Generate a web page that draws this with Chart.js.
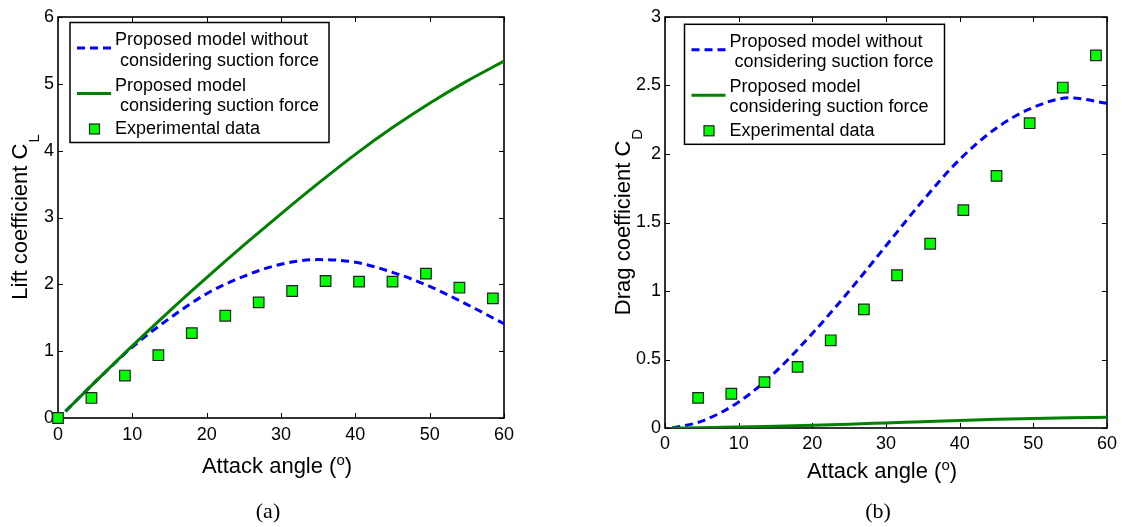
<!DOCTYPE html>
<html><head><meta charset="utf-8">
<script src="https://cdn.jsdelivr.net/npm/chart.js@4/dist/chart.umd.min.js"></script>
<style>
html,body{margin:0;padding:0;background:#fff;}
#wrap{position:relative;width:1122px;height:527px;overflow:hidden;background:#fff;}
canvas{position:absolute;top:0;}
#cA{left:0;width:561px;height:527px;}
#cB{left:561px;width:561px;height:527px;}
</style></head><body>
<div id="wrap"><canvas id="cA" width="561" height="527"></canvas><canvas id="cB" width="561" height="527"></canvas></div>
<script>
// ---------- data ----------
const modelAngles = [1, 5, 10, 15, 20, 25, 30, 35, 40, 45, 50, 55, 60];
const liftNoSuction = [0.10, 0.54, 1.06, 1.49, 1.86, 2.12, 2.30, 2.37, 2.33, 2.18, 1.97, 1.70, 1.41];
const liftSuction   = [0.10, 0.54, 1.08, 1.60, 2.10, 2.585, 3.055, 3.51, 3.945, 4.345, 4.71, 5.04, 5.34];
const dragNoSuction = [0.00, 0.05, 0.19, 0.41, 0.69, 1.00, 1.33, 1.66, 1.96, 2.19, 2.34, 2.41, 2.37];
const dragSuction   = [0.000, 0.002, 0.007, 0.013, 0.020, 0.028, 0.037, 0.046, 0.055, 0.063, 0.070, 0.075, 0.078];

const liftExpAngles = [0, 4.5, 9, 13.5, 18, 22.5, 27, 31.5, 36, 40.5, 45, 49.5, 54, 58.5];
const liftExp       = [0, 0.30, 0.635, 0.94, 1.27, 1.53, 1.73, 1.90, 2.05, 2.04, 2.04, 2.16, 1.95, 1.79];
const dragExpAngles = [4.5, 9, 13.5, 18, 22.5, 27, 31.5, 36, 40.5, 45, 49.5, 54, 58.5];
const dragExp       = [0.22, 0.25, 0.335, 0.446, 0.64, 0.866, 1.115, 1.345, 1.59, 1.84, 2.225, 2.485, 2.72];

const xTickValues = [0, 10, 20, 30, 40, 50, 60];
const xTickLabels = ['0', '10', '20', '30', '40', '50', '60'];
const liftTickValues = [0, 1, 2, 3, 4, 5, 6];
const liftTickLabels = ['0', '1', '2', '3', '4', '5', '6'];
const dragTickValues = [0, 0.5, 1, 1.5, 2, 2.5, 3];
const dragTickLabels = ['0', '0.5', '1', '1.5', '2', '2.5', '3'];

const seriesNames = ['Proposed model without considering suction force', 'Proposed model considering suction force', 'Experimental data'];
const legendLinesA = [['Proposed model without', ' considering suction force'], ['Proposed model', ' considering suction force'], ['Experimental data']];
const legendLinesB = [['Proposed model without', ' considering suction force'], ['Proposed model', 'considering suction force'], ['Experimental data']];
const xTitleMain = 'Attack angle (';
const xTitleSup = 'o';
const xTitleEnd = ')';
const liftTitle = ['Lift coefficient C', 'L'];
const dragTitle = ['Drag coefficient C', 'D'];
const captions = ['(a)', '(b)'];

// ---------- styling ----------
const FONT = "'Liberation Sans', Arial, Helvetica, sans-serif";
const BLUE = '#0000ff';
const GREEN = '#008000';
const MARK = '#00ff00';
const DASH = [8, 5];

function pts(xs, ys) { return xs.map((x, i) => ({ x: x, y: ys[i] })); }

function makePlugin(cfg) {
  return {
    id: 'deco' + cfg.key,
    beforeDatasetsDraw(chart) {
      const ctx = chart.ctx, a = chart.chartArea, x = chart.scales.x, y = chart.scales.y;
      ctx.save();
      ctx.strokeStyle = '#000';
      ctx.lineWidth = 1;
      ctx.beginPath();
      cfg.xTicks.forEach(v => {
        const p = Math.round(x.getPixelForValue(v)) + 0.5;
        ctx.moveTo(p, a.bottom); ctx.lineTo(p, a.bottom - 5);
        ctx.moveTo(p, a.top); ctx.lineTo(p, a.top + 5);
      });
      cfg.yTicks.forEach(v => {
        const p = Math.round(y.getPixelForValue(v)) + 0.5;
        ctx.moveTo(a.left, p); ctx.lineTo(a.left + 5, p);
        ctx.moveTo(a.right, p); ctx.lineTo(a.right - 5, p);
      });
      ctx.stroke();
      ctx.lineWidth = 1.6;
      ctx.strokeRect(a.left, a.top, a.right - a.left, a.bottom - a.top);
      ctx.restore();
    },
    afterDraw(chart) {
      const ctx = chart.ctx, a = chart.chartArea;
      ctx.save();
      ctx.fillStyle = '#000';
      ctx.textBaseline = 'alphabetic';
      // y title with subscript
      ctx.save();
      ctx.translate(cfg.yTitleBase, (a.top + a.bottom) / 2);
      ctx.rotate(-Math.PI / 2);
      ctx.font = '22px ' + FONT;
      const w1 = ctx.measureText(cfg.yTitle[0]).width;
      ctx.font = '15px ' + FONT;
      const w2 = ctx.measureText(cfg.yTitle[1]).width;
      const st = -(w1 + w2) / 2;
      ctx.font = '22px ' + FONT;
      ctx.textAlign = 'left';
      ctx.fillText(cfg.yTitle[0], st, 0);
      ctx.font = '15px ' + FONT;
      ctx.fillText(cfg.yTitle[1], st + w1 + 1, 12);
      ctx.restore();
      // x title with superscript
      ctx.textAlign = 'left';
      ctx.font = '22px ' + FONT;
      const m1 = ctx.measureText(xTitleMain).width;
      const m3 = ctx.measureText(xTitleEnd).width;
      ctx.font = '15px ' + FONT;
      const m2 = ctx.measureText(xTitleSup).width;
      let sx = cfg.xTitleCenter - (m1 + m2 + m3) / 2;
      ctx.font = '22px ' + FONT;
      ctx.fillText(xTitleMain, sx, cfg.xTitleBase);
      ctx.font = '15px ' + FONT;
      ctx.fillText(xTitleSup, sx + m1, cfg.xTitleBase - 8);
      ctx.font = '22px ' + FONT;
      ctx.fillText(xTitleEnd, sx + m1 + m2, cfg.xTitleBase);
      // caption
      ctx.font = "22px 'Liberation Serif', 'DejaVu Serif', serif";
      ctx.textAlign = 'center';
      ctx.fillText(cfg.caption, cfg.captionX, 518);
      // legend
      const lx = a.left + cfg.legOff[0], ly = a.top + cfg.legOff[1];
      const lw = cfg.legSize[0], lh = cfg.legSize[1];
      ctx.fillStyle = '#fff';
      ctx.fillRect(lx, ly, lw, lh);
      ctx.strokeStyle = '#000';
      ctx.lineWidth = 1.5;
      ctx.strokeRect(lx, ly, lw, lh);
      ctx.lineWidth = 3;
      ctx.strokeStyle = BLUE;
      ctx.setLineDash(DASH);
      ctx.beginPath(); ctx.moveTo(lx + 7, ly + 25.5); ctx.lineTo(lx + 41, ly + 25.5); ctx.stroke();
      ctx.setLineDash([]);
      ctx.strokeStyle = GREEN;
      ctx.beginPath(); ctx.moveTo(lx + 7, ly + 71); ctx.lineTo(lx + 41, ly + 71); ctx.stroke();
      ctx.fillStyle = MARK;
      ctx.fillRect(lx + 19.5, ly + 101.5, 10, 10);
      ctx.strokeStyle = '#222';
      ctx.lineWidth = 1.2;
      ctx.strokeRect(lx + 19.5, ly + 101.5, 10, 10);
      ctx.fillStyle = '#000';
      ctx.font = '18px ' + FONT;
      ctx.textAlign = 'left';
      const L = cfg.legend;
      ctx.fillText(L[0][0], lx + 45, ly + 22.5);
      ctx.fillText(L[0][1], lx + 45, ly + 43);
      ctx.fillText(L[1][0], lx + 45, ly + 68);
      ctx.fillText(L[1][1], lx + 45, ly + 88);
      ctx.fillText(L[2][0], lx + 45, ly + 111.5);
      ctx.restore();
    }
  };
}

function makeChart(id, cfg) {
  return new Chart(document.getElementById(id), {
    type: 'scatter',
    data: {
      datasets: [
        { label: seriesNames[0], data: pts(modelAngles, cfg.noSuction), showLine: true,
          borderColor: BLUE, backgroundColor: BLUE, borderWidth: 3, borderDash: DASH,
          pointRadius: 0, cubicInterpolationMode: 'monotone', fill: false, order: 3 },
        { label: seriesNames[1], data: pts(modelAngles, cfg.suction), showLine: true,
          borderColor: GREEN, backgroundColor: GREEN, borderWidth: 3,
          pointRadius: 0, cubicInterpolationMode: 'monotone', fill: false, order: 2 },
        { label: seriesNames[2], data: pts(cfg.expX, cfg.expY), showLine: false,
          pointStyle: 'rect', pointRadius: 7.5, pointBackgroundColor: MARK,
          pointBorderColor: '#222', pointBorderWidth: 1.2, clip: false, order: 1 }
      ]
    },
    options: {
      responsive: false, animation: false, devicePixelRatio: 1,
      layout: { padding: { left: 0, top: 17, right: cfg.padRight, bottom: 0 } },
      plugins: { legend: { display: false }, tooltip: { enabled: false } },
      scales: {
        x: {
          type: 'linear', min: 0, max: 60,
          afterBuildTicks: s => { s.ticks = xTickValues.map(v => ({ value: v })); },
          afterFit: s => { s.height = cfg.xHeight; },
          grid: { display: false, drawTicks: false }, border: { display: false },
          ticks: { color: '#000', font: { family: FONT, size: 18 }, padding: cfg.xPad, maxRotation: 0, autoSkip: false,
                   callback: (v, i) => xTickLabels[i] }
        },
        y: {
          type: 'linear', min: cfg.yTicks[0], max: cfg.yTicks[cfg.yTicks.length - 1],
          afterBuildTicks: s => { s.ticks = cfg.yTicks.map(v => ({ value: v })); },
          afterFit: s => { s.width = cfg.yWidth; },
          grid: { display: false, drawTicks: false }, border: { display: false },
          ticks: { color: '#000', font: { family: FONT, size: 18 }, padding: 4, autoSkip: false,
                   callback: (v, i) => cfg.yLabels[i] }
        }
      }
    },
    plugins: [makePlugin(cfg)]
  });
}

makeChart('cA', {
  key: 'A', noSuction: liftNoSuction, suction: liftSuction, expX: liftExpAngles, expY: liftExp,
  yTicks: liftTickValues, yLabels: liftTickLabels, xTicks: xTickValues,
  padRight: 57, yWidth: 58, xHeight: 109, xPad: 6,
  yTitle: liftTitle, yTitleBase: 27, xTitleCenter: 277, xTitleBase: 473,
  caption: captions[0], captionX: 268,
  legOff: [12, 5.5], legSize: [259, 120], legend: legendLinesA
});
makeChart('cB', {
  key: 'B', noSuction: dragNoSuction, suction: dragSuction, expX: dragExpAngles, expY: dragExp,
  yTicks: dragTickValues, yLabels: dragTickLabels, xTicks: xTickValues,
  padRight: 12, yWidth: 104, xHeight: 99, xPad: 5,
  yTitle: dragTitle, yTitleBase: 69, xTitleCenter: 321, xTitleBase: 478,
  caption: captions[1], captionX: 317,
  legOff: [19.5, 7.3], legSize: [260, 120], legend: legendLinesB
});
</script>
</body></html>
